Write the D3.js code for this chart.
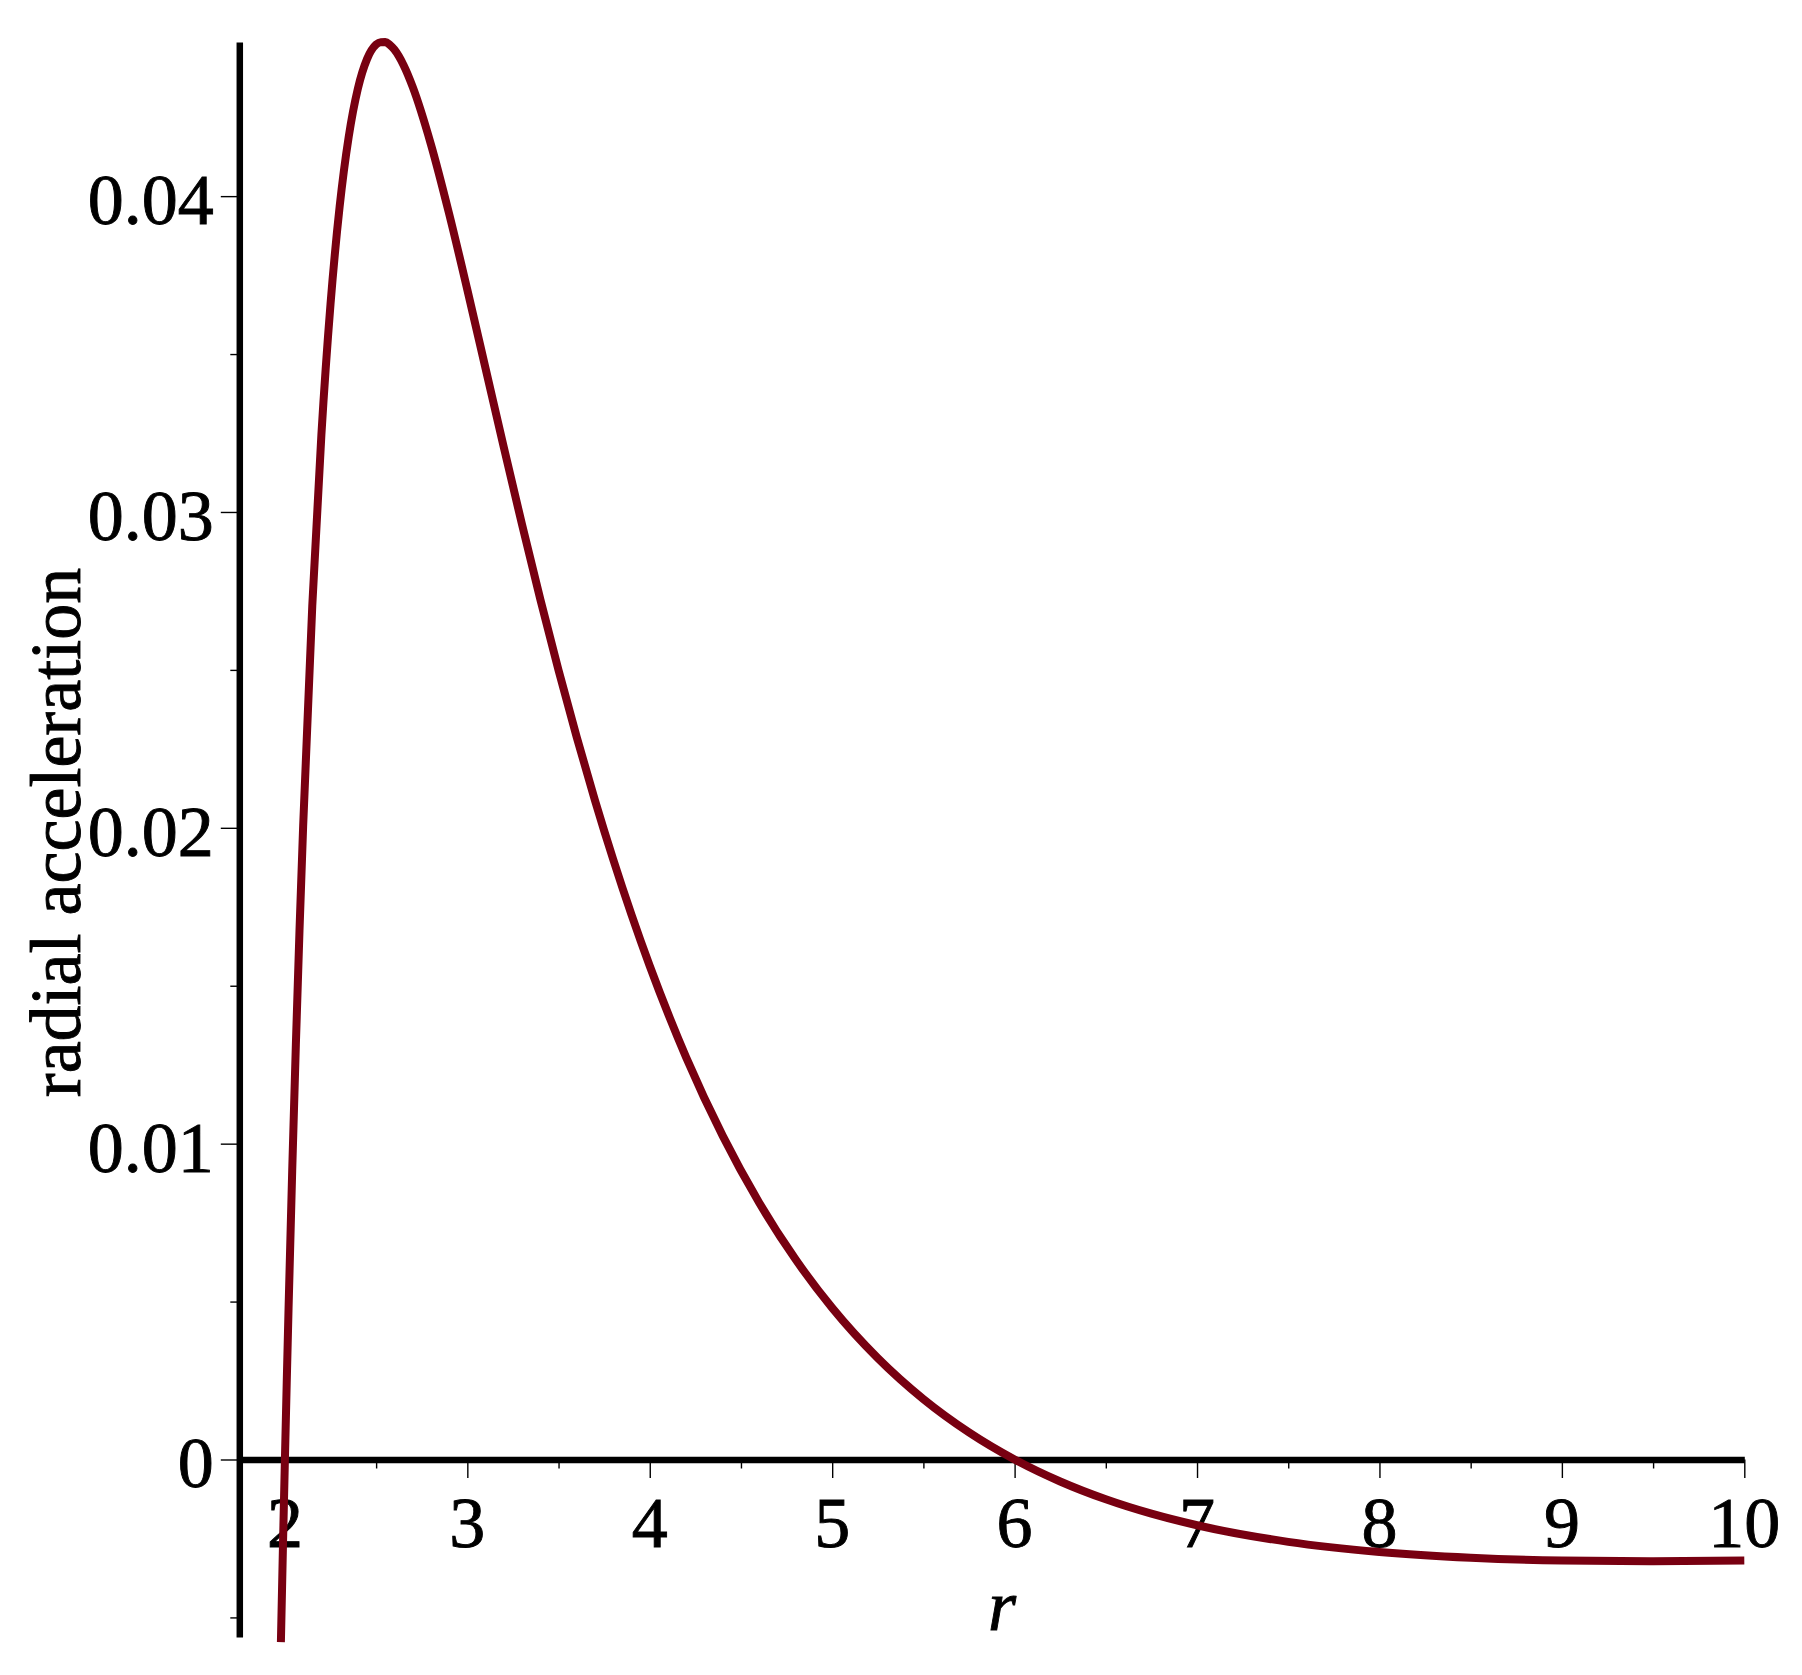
<!DOCTYPE html>
<html>
<head>
<meta charset="utf-8">
<script src="https://cdn.jsdelivr.net/npm/d3@7"></script>
<style>
  html, body { margin: 0; padding: 0; background: #ffffff; }
  svg { display: block; }
  svg text { font-family: "Liberation Serif", "Times New Roman", Times, Tinos, serif; }
</style>
</head>
<body>
<svg id="chart" width="1802" height="1675"></svg>
<script>
// ---- data ----
const rValues = [1.978, 1.99, 2.0, 2.01, 2.02, 2.04, 2.06, 2.08, 2.1, 2.15, 2.2, 2.25, 2.3, 2.35, 2.4, 2.45, 2.5, 2.525, 2.55, 2.575, 2.6, 2.65, 2.7, 2.8, 2.9, 3.0, 3.1, 3.2, 3.3, 3.4, 3.5, 3.6, 3.7, 3.8, 3.9, 4.0, 4.2, 4.4, 4.6, 4.8, 5.0, 5.25, 5.5, 5.75, 6.0, 6.25, 6.5, 6.75, 7.0, 7.5, 8.0, 8.5, 9.0, 9.5, 10.0];
const accelValues = [-0.00578, -0.002557, 0.0, 0.002444, 0.004781, 0.009146, 0.013127, 0.016754, 0.020053, 0.027027, 0.032443, 0.03658, 0.039666, 0.041888, 0.043403, 0.044338, 0.0448, 0.044874, 0.044877, 0.044792, 0.044641, 0.044154, 0.043467, 0.041649, 0.039447, 0.037037, 0.034542, 0.032043, 0.029597, 0.027239, 0.02499, 0.022862, 0.020863, 0.018992, 0.017247, 0.015625, 0.012726, 0.010245, 0.00813, 0.00633, 0.0048, 0.003209, 0.001912, 0.000858, 0.0, -0.000696, -0.00126, -0.001716, -0.002082, -0.002607, -0.00293, -0.003113, -0.003201, -0.003223, -0.0032];

const xMajorTicks = [2, 3, 4, 5, 6, 7, 8, 9, 10];
const xTickLabels = ["2", "3", "4", "5", "6", "7", "8", "9", "10"];
const xMinorTicks = [2.5, 3.5, 4.5, 5.5, 6.5, 7.5, 8.5, 9.5];
const yMajorTicks = [0, 0.01, 0.02, 0.03, 0.04];
const yTickLabels = ["0", "0.01", "0.02", "0.03", "0.04"];
const yMinorTicks = [-0.005, 0.005, 0.015, 0.025, 0.035];
const xTitle = "r";
const yTitle = "radial acceleration";
const xDomain = [1.75, 10];
const yDomain = [-0.00562, 0.04488];

// ---- layout ----
const plotLeft = 239.3, plotRight = 1744.3, plotTop = 42, plotBottom = 1637;
const fontSize = 72;
const textStroke = 0.9;
const curveColor = "#780011";

const svg = d3.select("#chart");
const x = d3.scaleLinear().domain(xDomain).range([plotLeft, plotRight]);
const y = d3.scaleLinear().domain(yDomain).range([plotBottom, plotTop]);
const y0 = y(0);

// x axis (at y = 0)
const gx = svg.append("g").attr("transform", `translate(0,${y0})`);
gx.call(d3.axisBottom(x).tickValues(xMajorTicks).tickSize(18.5).tickSizeOuter(0).tickFormat(""));
gx.append("g").call(d3.axisBottom(x).tickValues(xMinorTicks).tickSize(9).tickSizeOuter(0).tickFormat(""))
  .select(".domain").remove();
gx.selectAll(".tick line").attr("stroke", "#000").attr("stroke-width", 1.4);
gx.selectAll(".domain").attr("stroke", "#000").attr("stroke-width", 6.5);

// y axis (at left edge)
const gy = svg.append("g").attr("transform", `translate(${plotLeft},0)`);
gy.call(d3.axisLeft(y).tickValues(yMajorTicks).tickSize(18.5).tickSizeOuter(0).tickFormat(""));
gy.append("g").call(d3.axisLeft(y).tickValues(yMinorTicks).tickSize(9).tickSizeOuter(0).tickFormat(""))
  .select(".domain").remove();
gy.selectAll(".tick line").attr("stroke", "#000").attr("stroke-width", 1.4);
gy.selectAll(".domain").attr("stroke", "#000").attr("stroke-width", 6.5);

function styleText(sel) {
  return sel.style("font-family", '"Liberation Serif", "Times New Roman", Times, Tinos, serif')
    .style("font-size", fontSize + "px")
    .attr("fill", "#000")
    .attr("stroke", "#000")
    .attr("stroke-width", textStroke);
}

// tick labels
svg.append("g").selectAll("text").data(xMajorTicks).join("text")
  .attr("x", d => x(d))
  .attr("y", y0 + 87.4)
  .attr("text-anchor", "middle")
  .call(styleText)
  .text((d, i) => xTickLabels[i]);

svg.append("g").selectAll("text").data(yMajorTicks).join("text")
  .attr("x", plotLeft - 25.5)
  .attr("y", d => y(d) + 28)
  .attr("text-anchor", "end")
  .call(styleText)
  .text((d, i) => yTickLabels[i]);

// axis titles
svg.append("text")
  .attr("x", 1002)
  .attr("y", 1630)
  .attr("text-anchor", "middle")
  .call(styleText)
  .style("font-style", "italic")
  .text(xTitle);

svg.append("text")
  .attr("transform", `translate(80,832.5) rotate(-90)`)
  .attr("text-anchor", "middle")
  .call(styleText)
  .text(yTitle);

// curve
const pts = rValues.map((r, i) => [r, accelValues[i]]);
const line = d3.line().x(d => x(d[0])).y(d => y(d[1])).curve(d3.curveMonotoneX);
svg.append("path")
  .datum(pts)
  .attr("d", line)
  .attr("fill", "none")
  .attr("stroke", curveColor)
  .attr("stroke-width", 8)
  .attr("stroke-linejoin", "round");
</script>
</body>
</html>
